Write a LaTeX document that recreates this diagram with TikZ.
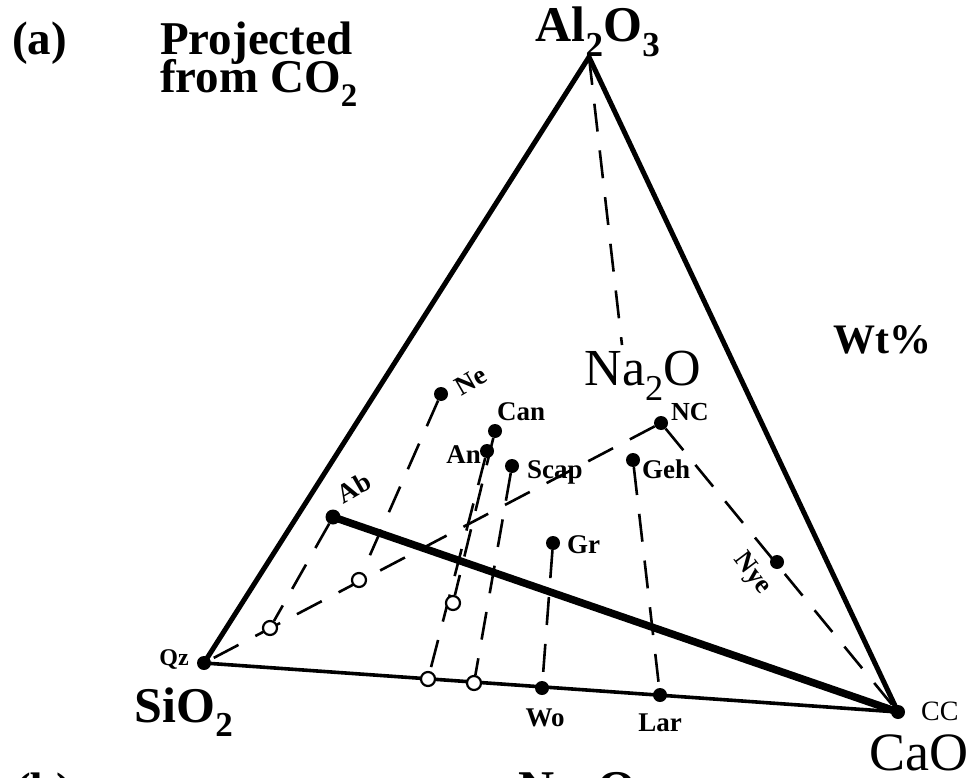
\documentclass[tikz,border=0pt]{standalone}
\usepackage{fontspec}
\setmainfont{Liberation Serif}
\usetikzlibrary{positioning,backgrounds}

\begin{document}
\begin{tikzpicture}[
    x=1pt,y=-1pt,
    side/.style={line width=5pt,line join=miter},
    base/.style={line width=3.6pt},
    tie/.style={line width=7.5pt},
    proj/.style={line width=2.6pt,dash pattern=on 28pt off 19pt},
    dot/.style={circle,fill,inner sep=0pt,minimum size=14pt},
    odot/.style={circle,draw,fill=white,line width=2.2pt,inner sep=0pt,minimum size=14pt},
    lbl/.style={font=\fontsize{27}{29}\selectfont\bfseries,inner sep=0pt},
    big/.style={font=\fontsize{50}{52}\selectfont\bfseries,inner sep=0pt},
    head/.style={font=\fontsize{47}{38}\selectfont\bfseries,inner sep=0pt,align=left}
]
\useasboundingbox (0,0) rectangle (974,778);

% corners of the triangle
\coordinate (al) at (589,57);
\node[dot] (qz) at (204,663) {};
\node[dot] (cc) at (898,712) {};
\coordinate (nagap) at (622,345);

% phases
\node[dot] (ne)   at (441,394) {};
\node[dot] (can)  at (495,431) {};
\node[dot] (an)   at (487,451) {};
\node[dot] (scap) at (512,466) {};
\node[dot] (nc)   at (661,423) {};
\node[dot] (geh)  at (633,460) {};
\node[dot] (gr)   at (553,543) {};
\node[dot] (nye)  at (777,562) {};
\node[dot,minimum size=15pt] (ab) at (333,517) {};
\node[dot] (wo)   at (542,688) {};
\node[dot] (lar)  at (660,695) {};

% projected points
\node[odot] (ab2)   at (270,628) {};
\node[odot] (ne2)   at (359,580) {};
\node[odot] (can2)  at (453,603) {};
\node[odot] (an2)   at (428,679) {};
\node[odot] (scap2) at (474,683) {};

\begin{scope}[on background layer]
  \draw[side] (qz.center) -- (al) -- (cc.center);
  \draw[base] (qz.center) -- (cc.center);
  \draw[tie] (ab.center) -- (cc.center);
  % projection lines
  \draw[proj] (al) -- (nagap);
  \draw[proj] (geh) -- (lar);
  \draw[proj] (gr) -- (wo);
  \draw[proj] (scap) -- (scap2);
  \draw[proj] (an) -- (an2);
  \draw[proj] (can) -- (can2);
  \draw[proj] (ne) -- (ne2);
  \draw[proj] (ab) -- (ab2);
  \draw[proj] (nc) -- (qz);
  \draw[proj] (nc) -- (cc);
\end{scope}

% labels
\node[lbl,anchor=base west] at (497,420) {Can};
\node[lbl,anchor=base east] at (481,463) {An};
\node[lbl,anchor=base west] at (527,478) {Scap};
\node[lbl,anchor=base west] at (642,478) {Geh};
\node[lbl,anchor=base west] at (567,553) {Gr};
\node[lbl,anchor=base west,font=\fontsize{26}{28}\selectfont\bfseries] at (671,420) {NC};
\node[lbl,anchor=base] at (545,726) {Wo};
\node[lbl,anchor=base] at (660,731) {Lar};
\node[lbl,anchor=base east,font=\fontsize{24}{26}\selectfont\bfseries] at (189,665) {Qz};
\node[lbl,anchor=base west,font=\fontsize{28}{30}\selectfont] at (921,720) {CC};
\node[lbl,rotate=30] at (471,381) {Ne};
\node[lbl,rotate=30] at (354,488) {Ab};
\node[lbl,rotate=-53] at (752,574) {Nye};

\node[big,anchor=base] at (598,42) {Al\textsubscript{2}O\textsubscript{3}};
\node[big,anchor=base] at (184,722) {SiO\textsubscript{2}};
\node[big,anchor=base,font=\fontsize{54}{56}\selectfont] at (919,770) {CaO};
\node[big,anchor=base,font=\fontsize{52}{54}\selectfont] at (643,385) {Na\textsubscript{2}O};
\node[big,anchor=base west,font=\fontsize{42}{44}\selectfont\bfseries] at (833,353) {Wt\%};

\node[head,anchor=base west] at (12,55) {(a)};
\node[head,anchor=base west] at (160,55) {Projected};
\node[head,anchor=base west] at (160,93) {from CO\textsubscript{2}};

% next panel, cut off by the frame
\node[head,anchor=base west] at (15,805) {(b)};
\node[big,anchor=base west] at (518,805) {Na\textsubscript{2}O};
\end{tikzpicture}
\end{document}
